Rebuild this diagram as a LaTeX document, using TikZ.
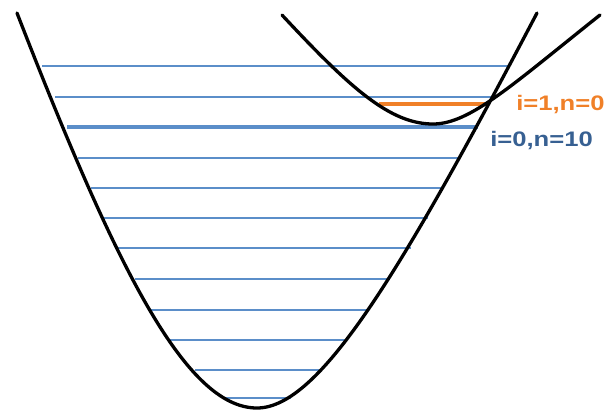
\documentclass[tikz,border=0pt]{standalone}
\usepackage{fontspec}
\setmainfont{Liberation Sans}
\definecolor{lineblue}{RGB}{91,142,201}
\definecolor{orng}{RGB}{240,128,40}
\definecolor{dblue}{RGB}{55,96,146}
\begin{document}
\begin{tikzpicture}[x=1pt,y=-1pt,
  curve/.style={line width=3.3pt, black, line cap=round, line join=round},
  level/.style={lineblue, line width=2pt},
  levelthick/.style={lineblue, line width=4pt},
  levelorange/.style={orng, line width=4pt},
  lbl/.style={font=\bfseries\fontsize{21}{21}\selectfont, inner sep=0pt, anchor=base west, xscale=1.22}]
\useasboundingbox (0,0) rectangle (605,410);
% energy levels of the lower well
\foreach \y/\a/\b in {66/42/508, 97/55/493, 158/78/459, 188/91/444, 218/104/428, 248/118/411, 279/135/388, 310/151/367, 340/170/347, 370/195/319, 398/226/291}
  \draw[level] (\a,\y) -- (\b,\y);
\draw[levelthick] (67,127) -- (478,127);
\draw[levelorange] (379,104) -- (487,104);
% lower (large) well
\draw[curve] (17,13) .. controls (115,265) and (185,408) .. (257,408)
                     .. controls (320,408) and (402,270) .. (537,13);
% upper (small) well
\draw[curve] (282,15) .. controls (350,88) and (390,124) .. (433,124)
                      .. controls (470,124) and (512,85) .. (600,15);
% labels
\node[lbl, text=orng] (l1) at (516,110) {i=1,n=0};
\node[lbl, text=dblue] (l0) at (490,146) {i=0,n=10};
\end{tikzpicture}
\end{document}
